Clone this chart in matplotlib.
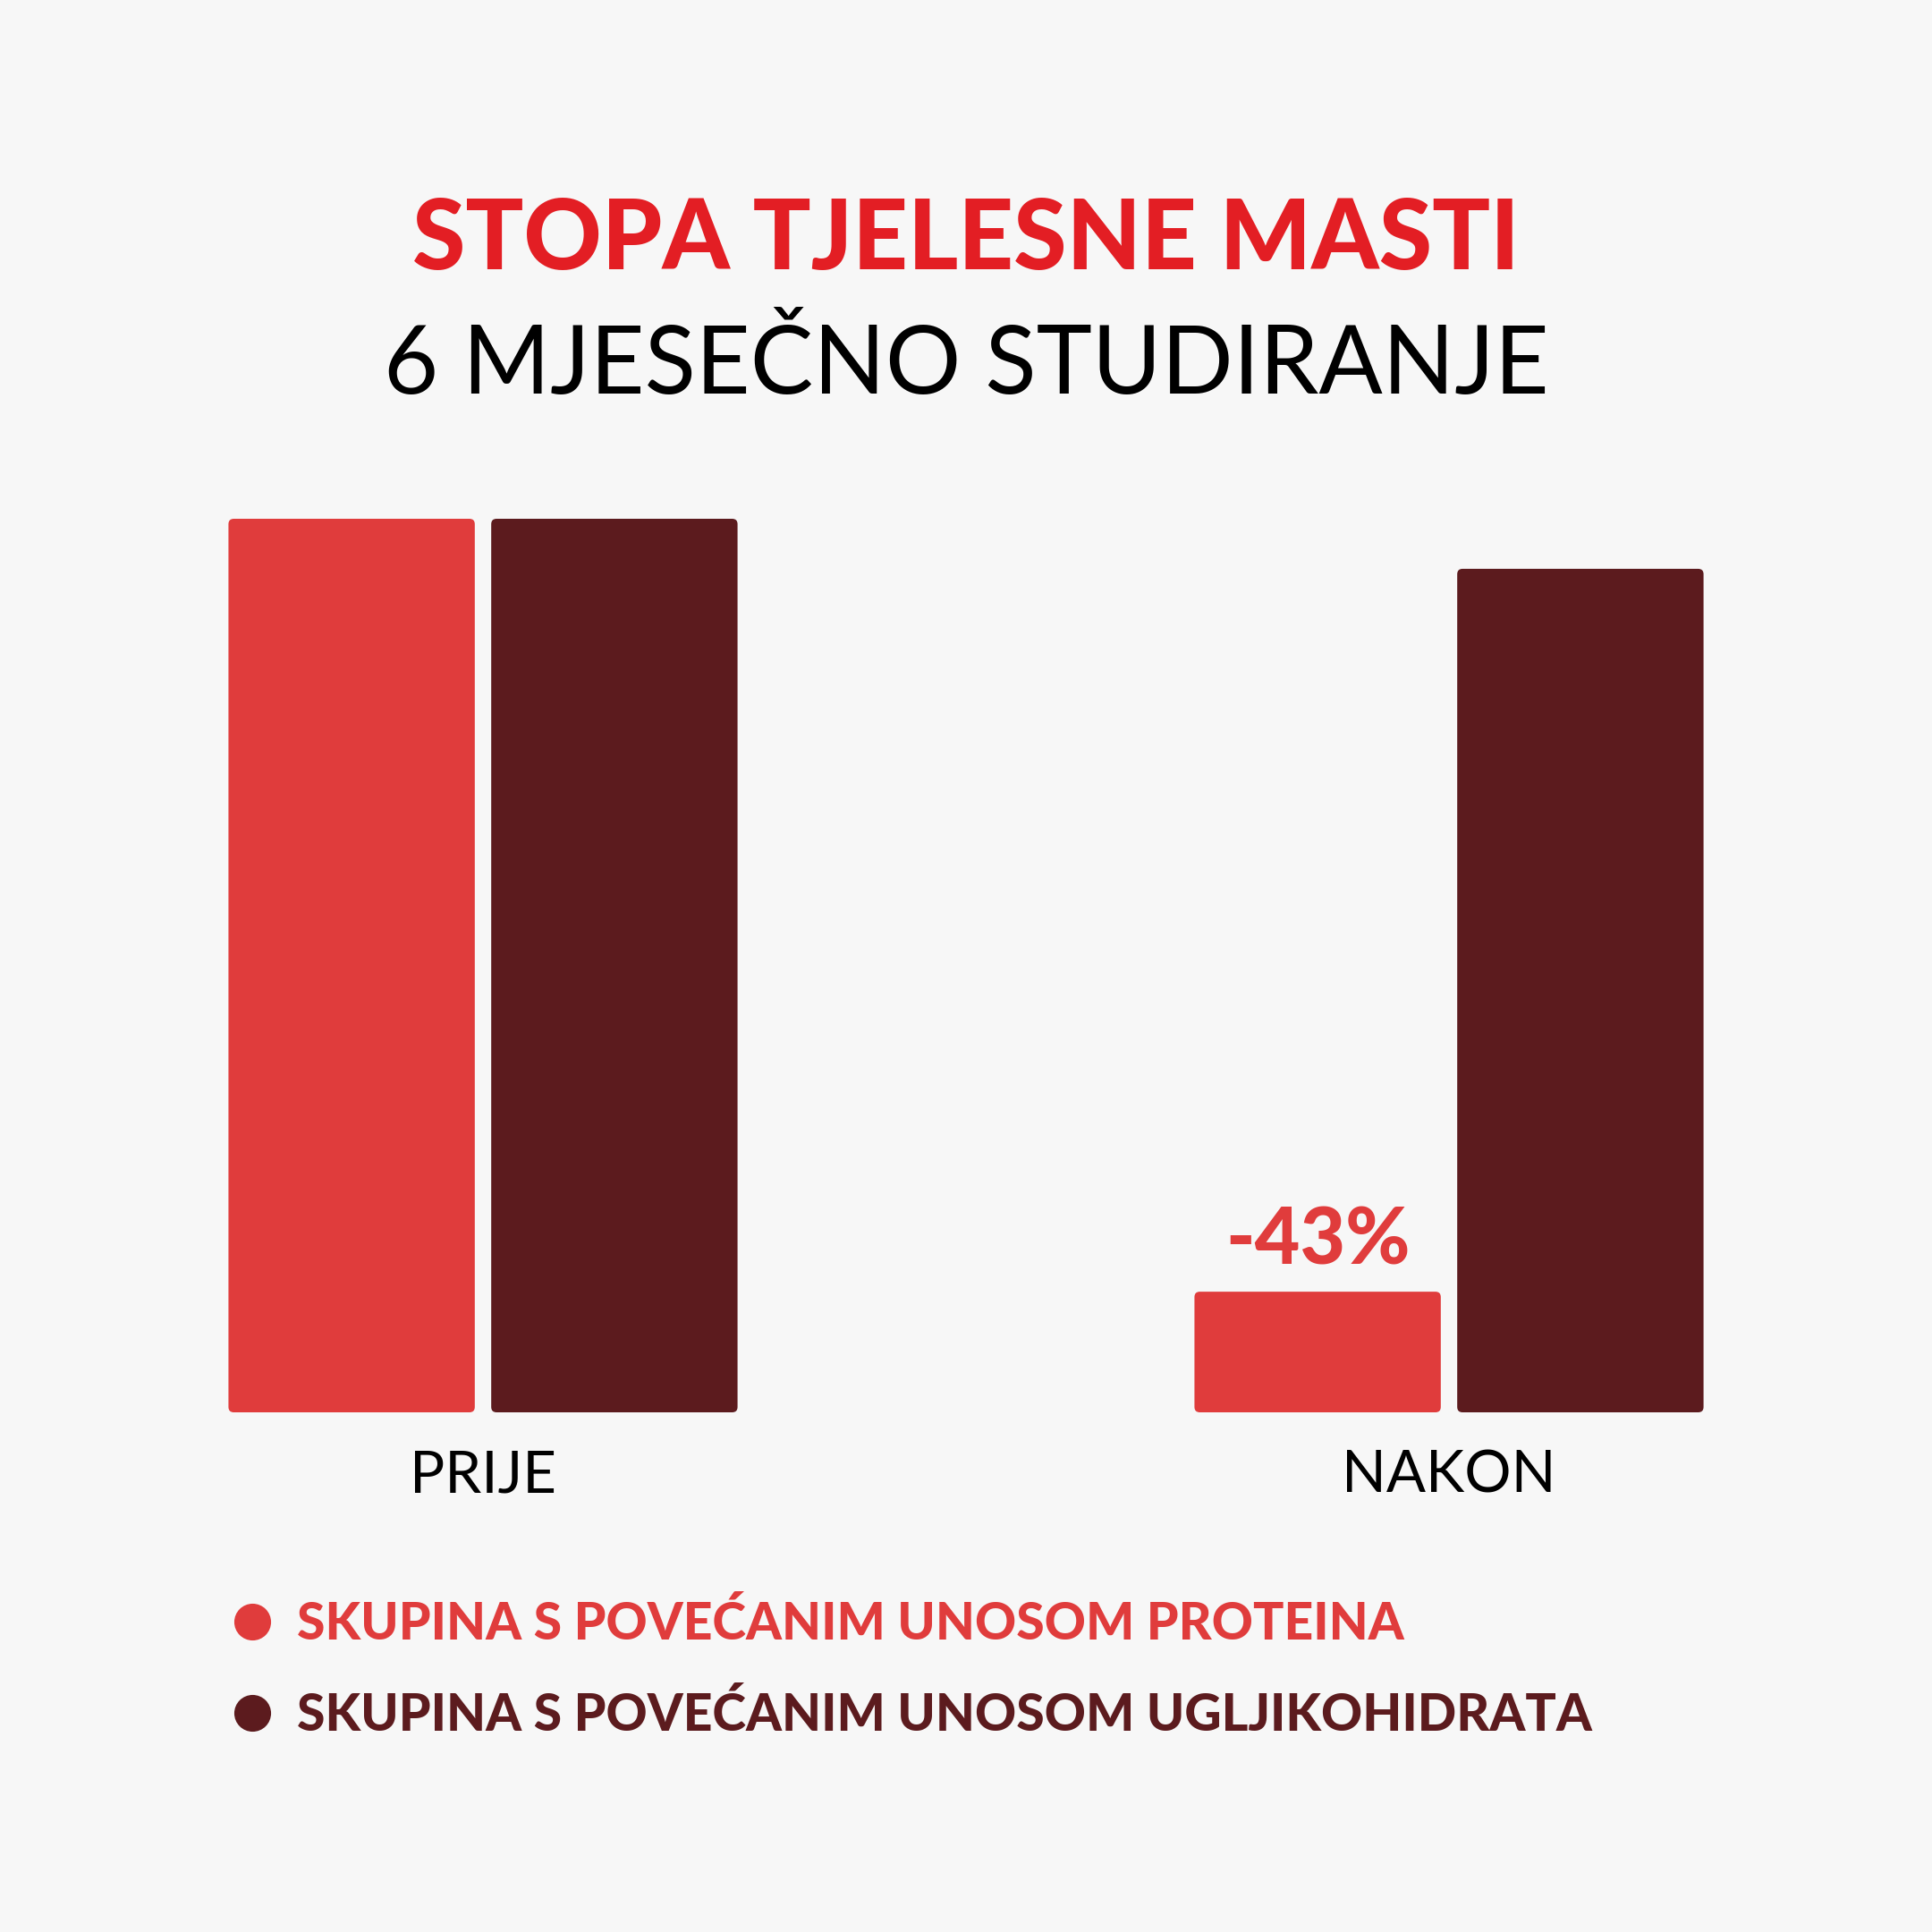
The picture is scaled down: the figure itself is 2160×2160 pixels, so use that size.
import matplotlib
matplotlib.use("Agg")
import matplotlib.pyplot as plt
from matplotlib.patches import FancyBboxPatch
from matplotlib.lines import Line2D
import numpy as np

categories = ["PRIJE", "NAKON"]
series_names = ["SKUPINA S POVEĆANIM UNOSOM PROTEINA",
                "SKUPINA S POVEĆANIM UNOSOM UGLJIKOHIDRATA"]
protein_values = [100.0, 13.5]
carb_values = [100.0, 94.4]
change_label = "-43%"
title = "STOPA TJELESNE MASTI"
subtitle = "6 MJESEČNO STUDIRANJE"

BG = "#F7F7F7"
RED = "#E03C3C"
DARK = "#5C1B1E"
TITLE_RED = "#E31E24"

fig = plt.figure(figsize=(10.8, 10.8), dpi=200, facecolor=BG)
ax = fig.add_axes([0.0, 1 - 1579 / 2160, 1.0, (1579 - 580) / 2160])
ax.set_facecolor(BG)
ax.set_xlim(-0.5, 1.5)
ax.set_ylim(0, 100)

x = np.arange(len(categories))
w = 0.255
off = 0.136
b1 = ax.bar(x - off, protein_values, w, color=RED)
b2 = ax.bar(x + off, carb_values, w, color=DARK)

# replace with rounded-corner rectangles
r = 0.0055
aspect = (100 / 999) / (2 / 2160)
for bars in (b1, b2):
    for p in bars:
        bx, by = p.get_xy()
        fb = FancyBboxPatch((bx, by), p.get_width(), p.get_height(),
                            boxstyle=f"round,pad=0,rounding_size={r}",
                            mutation_aspect=aspect,
                            facecolor=p.get_facecolor(), edgecolor="none")
        p.set_visible(False)
        ax.add_patch(fb)

for s in ax.spines.values():
    s.set_visible(False)
ax.set_yticks([])
ax.set_xticks(x, categories)
ax.tick_params(axis="x", length=0, pad=15, labelsize=23.5, labelcolor="black")
for t in ax.get_xticklabels():
    t.set_fontfamily("Lato")

ax.text(x[1] - off, protein_values[1] + 1.6, change_label, ha="center", va="bottom",
        color=RED, fontsize=31.5, fontweight="black", family="Lato")

fig.text(0.5, 1 - 270 / 2160, title, ha="center", va="center", color=TITLE_RED,
         fontsize=38.8, fontweight="black", family="Lato")
fig.text(0.5, 1 - 409 / 2160, subtitle, ha="center", va="center", color="black",
         fontsize=38, fontweight="normal", family="Lato")

handles = [Line2D([], [], linestyle="none", marker="o", markersize=14.8,
                  markerfacecolor=c, markeredgecolor="none") for c in (RED, DARK)]
leg = fig.legend(handles, series_names, loc="upper left",
                 bbox_to_anchor=(254 / 2160, 1 - 1789 / 2160),
                 frameon=False, handlelength=1.0, handletextpad=0.37,
                 borderpad=0, borderaxespad=0, labelspacing=0.84,
                 prop={"family": "Lato", "weight": "black", "size": 20.5})
for t, c in zip(leg.get_texts(), (RED, DARK)):
    t.set_color(c)

fig.savefig("out.png", dpi=200, facecolor=BG)
